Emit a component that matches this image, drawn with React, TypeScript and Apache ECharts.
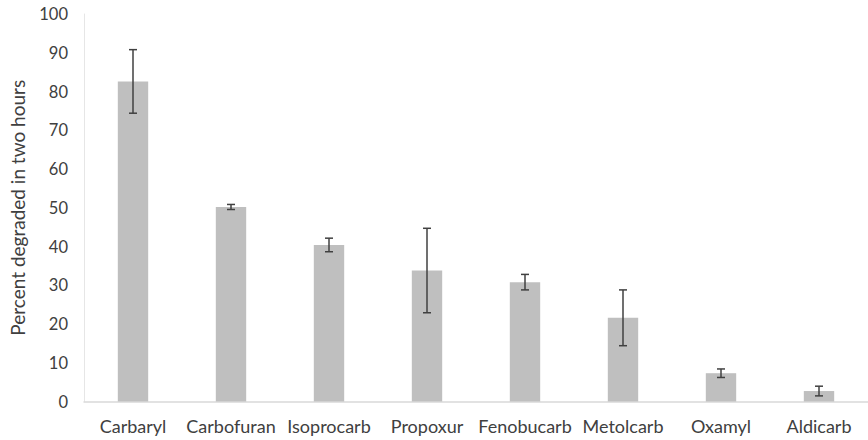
import React, { useEffect, useRef } from "react";
import * as echarts from "echarts";

const categories = ["Carbaryl", "Carbofuran", "Isoprocarb", "Propoxur", "Fenobucarb", "Metolcarb", "Oxamyl", "Aldicarb"];
const values = [82.6, 50.2, 40.4, 33.8, 30.8, 21.6, 7.3, 2.7];
const errors = [8.2, 0.65, 1.75, 10.9, 2.0, 7.2, 1.1, 1.25];
const yAxisTitle = "Percent degraded in two hours";

export default function App() {
  const ref = useRef<HTMLDivElement>(null);
  useEffect(() => {
    if (!ref.current) return;
    const chart = echarts.init(ref.current, null, { renderer: "svg" });
    const font = "Lato, 'Open Sans', sans-serif";
    chart.setOption({
      animation: false,
      backgroundColor: "#ffffff",
      grid: { left: 82.5, top: 14, width: 793, height: 387.5, containLabel: false },
      xAxis: {
        type: "category",
        data: categories,
        axisLine: { show: true, lineStyle: { color: "#d9d9d9", width: 1.5 } },
        axisTick: { show: false },
        axisLabel: { color: "#404040", fontSize: 18, fontFamily: font, margin: 15, interval: 0 },
      },
      yAxis: {
        type: "value",
        min: 0,
        max: 100,
        interval: 10,
        name: yAxisTitle,
        nameLocation: "middle",
        nameGap: 57,
        nameTextStyle: { color: "#404040", fontSize: 19, fontFamily: font },
        axisLine: { show: true, lineStyle: { color: "#e6e6e6", width: 1 } },
        axisTick: { show: false },
        splitLine: { show: false },
        axisLabel: { color: "#404040", fontSize: 16.5, fontFamily: font, margin: 16 },
      },
      series: [
        {
          type: "bar",
          data: values,
          barWidth: "31%",
          itemStyle: { color: "#bfbfbf" },
        },
        {
          type: "custom",
          data: values.map((v, i) => [i, v - errors[i], v + errors[i]]),
          renderItem: (params: any, api: any) => {
            const x = api.value(0);
            const lo = api.coord([x, api.value(1)]);
            const hi = api.coord([x, api.value(2)]);
            const hw = 4;
            const style = { stroke: "#404040", lineWidth: 1.5, fill: "none" };
            return {
              type: "group",
              children: [
                { type: "line", shape: { x1: lo[0], y1: lo[1], x2: hi[0], y2: hi[1] }, style },
                { type: "line", shape: { x1: lo[0] - hw, y1: lo[1], x2: lo[0] + hw, y2: lo[1] }, style },
                { type: "line", shape: { x1: hi[0] - hw, y1: hi[1], x2: hi[0] + hw, y2: hi[1] }, style },
              ],
            };
          },
          z: 10,
        },
      ],
    });
    return () => chart.dispose();
  }, []);
  return <div ref={ref} style={{ position: "absolute", left: 0, top: 0, width: 868, height: 440 }} />;
}
